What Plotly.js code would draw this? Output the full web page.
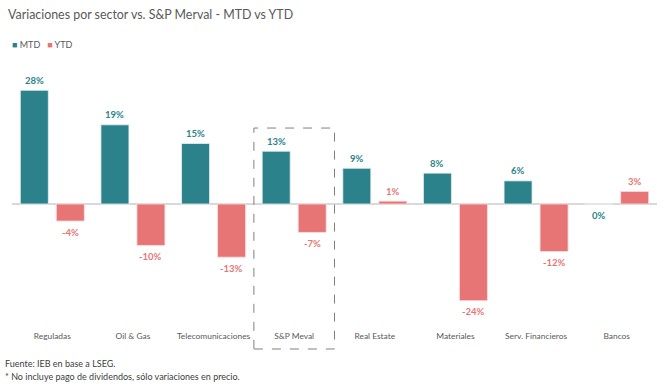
<!DOCTYPE html>
<html>
<head>
<meta charset="utf-8">
<script src="https://cdn.plot.ly/plotly-3.0.1.min.js"></script>
<style>html,body{margin:0;padding:0;background:#fff;}#chart{width:668px;height:384px;}</style>
</head>
<body>
<div id="chart"></div>
<script>
const categories = ["Reguladas", "Oil & Gas", "Telecomunicaciones", "S&P Meval", "Real Estate", "Materiales", "Serv. Financieros", "Bancos"];
const mtd = [28, 19.5, 14.9, 13, 8.8, 7.6, 5.7, 0];
const ytd = [-4.2, -10.2, -13.1, -7, 0.7, -23.8, -11.7, 3.1];
const mtdLabels = ["28%", "19%", "15%", "13%", "9%", "8%", "6%", "0%"];
const ytdLabels = ["-4%", "-10%", "-13%", "-7%", "1%", "-24%", "-12%", "3%"];
const highlighted = "S&P Meval";

const teal = "#2b828a";
const pink = "#e87575";
const font = "Lato, Open Sans, sans-serif";

const traces = [
  {type: "bar", name: "MTD", x: categories, y: mtd, marker: {color: teal, line: {color: "#e8f0f1", width: 0.8}}, hoverinfo: "skip"},
  {type: "bar", name: "YTD", x: categories, y: ytd, marker: {color: pink, line: {color: "#f7e0e0", width: 0.8}}, hoverinfo: "skip"}
];

const annotations = [];
function addLabels(vals, labels, color, shift) {
  vals.forEach((v, i) => {
    annotations.push({
      x: categories[i], y: v, xref: "x", yref: "y", text: "<b>" + labels[i] + "</b>",
      showarrow: false, xshift: shift, yshift: v > 0 ? 10 : -11,
      font: {family: font, size: 9.5, color: color}
    });
  });
}
addLabels(mtd, mtdLabels, teal, -18);
addLabels(ytd, ytdLabels, pink, 18);

// legend
annotations.push({xref: "paper", yref: "paper", x: -0.003, y: 1.12, xanchor: "left", yanchor: "middle", showarrow: false,
  text: '<span style="color:' + teal + '">■</span> MTD   <span style="color:' + pink + '">■</span> YTD',
  font: {family: font, size: 9, color: "#595959"}});
// footnotes
annotations.push({xref: "paper", yref: "paper", x: -0.014, y: -0.13, xanchor: "left", yanchor: "middle", showarrow: false,
  text: "Fuente: IEB en base a LSEG.", font: {family: font, size: 9, color: "#404040"}});
annotations.push({xref: "paper", yref: "paper", x: -0.014, y: -0.183, xanchor: "left", yanchor: "middle", showarrow: false,
  text: "* No incluye pago de dividendos, sólo variaciones en precio.", font: {family: font, size: 9, color: "#404040"}});

const hi = categories.indexOf(highlighted);
const layout = {
  width: 668, height: 384,
  margin: {l: 12, r: 11, t: 75, b: 54},
  paper_bgcolor: "#fff", plot_bgcolor: "#fff",
  title: {text: "Variaciones por sector vs. S&P Merval - MTD vs YTD", x: 0.012, xanchor: "left", y: 0.962, yanchor: "middle",
    font: {family: font, size: 12.4, color: "#595959"}},
  showlegend: false,
  barmode: "group", bargap: 0.107, bargroupgap: 0.222,
  xaxis: {type: "category", showgrid: false, showline: false, ticks: "", tickfont: {family: font, size: 8.4, color: "#595959"}, fixedrange: true},
  yaxis: {range: [-31.03, 31.77], showgrid: false, showticklabels: false, zeroline: true, zerolinecolor: "#d9d9d9", zerolinewidth: 1.5, fixedrange: true},
  annotations: annotations,
  shapes: [{type: "rect", xref: "x", yref: "paper", x0: hi - 0.5, x1: hi + 0.5, y0: -0.0745, y1: 0.792,
    line: {color: "#808080", width: 1, dash: "dash"}, fillcolor: "rgba(0,0,0,0)"}]
};
Plotly.newPlot("chart", traces, layout, {displayModeBar: false, staticPlot: true});
</script>
</body>
</html>
